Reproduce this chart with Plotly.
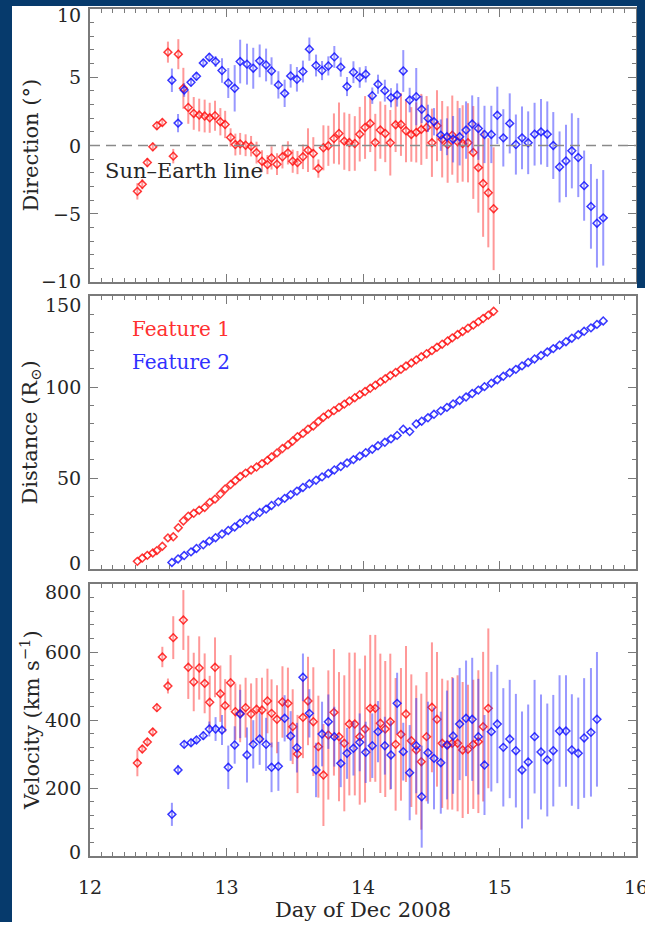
import plotly.graph_objects as go

# ---------------- data ----------------
red_t = [12.347, 12.383, 12.42, 12.46, 12.49, 12.53, 12.571, 12.61, 12.647, 12.684,
         12.72, 12.76, 12.80, 12.84, 12.877, 12.916, 12.955, 12.99, 13.03, 13.065,
         13.10, 13.14, 13.18, 13.22, 13.26, 13.30, 13.33, 13.37, 13.41, 13.45,
         13.485, 13.52, 13.56, 13.597, 13.636, 13.673, 13.71, 13.746, 13.787, 13.824,
         13.863, 13.90, 13.94, 13.976, 14.015, 14.053, 14.09, 14.127, 14.163, 14.20,
         14.239, 14.278, 14.315, 14.354, 14.39, 14.427, 14.466, 14.505, 14.542, 14.58,
         14.62, 14.654, 14.693, 14.73, 14.769, 14.808, 14.845, 14.88, 14.918, 14.957]

blue_t = [12.60, 12.645, 12.69, 12.74, 12.78, 12.83, 12.874, 12.92, 12.967, 13.013,
          13.06, 13.10, 13.15, 13.196, 13.243, 13.29, 13.33, 13.38, 13.426, 13.47,
          13.516, 13.56, 13.607, 13.656, 13.70, 13.746, 13.79, 13.837, 13.883, 13.93,
          13.976, 14.02, 14.068, 14.11, 14.16, 14.205, 14.25, 14.295, 14.342, 14.39,
          14.43, 14.476, 14.52, 14.57, 14.615, 14.66, 14.708, 14.755, 14.80, 14.845,
          14.89, 14.94, 14.984, 15.028, 15.075, 15.12, 15.165, 15.21, 15.257, 15.304,
          15.35, 15.394, 15.44, 15.487, 15.53, 15.577, 15.62, 15.67, 15.714, 15.76]

red_dir = [-3.36, -2.84, -1.25, -0.10, 1.45, 1.69, 6.84, -0.78, 6.69, 4.19,
           2.79, 2.35, 2.23, 2.16, 2.03, 2.18, 1.74, 1.54, 0.59, 0.07,
           0.12, 0.02, -0.05, -0.52, -1.15, -1.40, -0.91, -1.37, -0.83, -0.54,
           -1.15, -1.25, -0.83, -0.34, -0.59, -1.69, -0.17, -0.02, 0.51, 0.88,
           0.32, 0.22, 0.15, 0.83, 1.32, 1.62, 0.22, 1.13, 0.88, 0.20,
           1.52, 1.54, 1.08, 0.81, 0.96, 1.18, 1.32, 0.20, 1.45, 0.46,
           0.07, 0.76, 0.27, 0.15, 0.20, -0.51, -1.62, -2.79, -3.46, -4.63]
red_dir_err = [0.6, 0.37, 0.34, 0.32, 0.28, 0.27, 0.77, 0.53, 1.1, 1.5,
               1.2, 1.2, 1.2, 1.2, 1.1, 1.1, 1.0, 1.0, 0.67, 0.8,
               0.8, 0.8, 0.75, 0.8, 0.8, 0.7, 0.85, 0.8, 0.85, 0.85,
               0.85, 0.85, 0.9, 1.6, 1.2, 0.67, 1.65, 1.47, 1.84, 2.27,
               2.1, 2.1, 2.0, 2.0, 2.3, 2.1, 2.1, 2.1, 2.1, 2.4,
               2.0, 2.3, 2.3, 2.0, 2.2, 2.6, 2.3, 2.5, 2.6, 2.8,
               2.8, 2.9, 3.0, 2.8, 2.9, 3.4, 3.3, 3.9, 4.0, 4.5]

blue_dir = [4.78, 1.64, 4.07, 4.63, 5.07, 6.05, 6.47, 6.15, 5.49, 4.58,
            4.19, 6.15, 5.96, 5.66, 6.20, 5.90, 5.46, 4.44, 3.82, 5.10,
            4.85, 5.42, 7.06, 5.86, 5.49, 5.83, 6.49, 5.74, 4.32, 5.37,
            4.98, 5.22, 3.65, 4.49, 4.02, 3.50, 3.70, 5.46, 3.33, 3.58,
            2.65, 1.99, 1.74, 0.76, 0.64, 0.46, 0.64, 1.13, 1.57, 1.25,
            0.81, 0.81, 2.21, 0.56, 1.62, 0.07, 0.56, 0.20, 0.83, 1.00,
            0.83, 0.00, -1.57, -1.13, -0.39, -0.88, -2.94, -4.46, -5.69, -5.30]
blue_dir_err = [0.86, 0.67, 0.5, 0.3, 0.3, 0.3, 0.3, 0.4, 0.9, 1.1,
                1.7, 1.6, 1.5, 1.5, 1.2, 1.2, 1.0, 1.0, 1.0, 0.86,
                0.9, 0.8, 0.85, 0.8, 0.7, 0.7, 0.8, 0.7, 0.7, 0.8,
                0.75, 0.6, 0.6, 0.7, 0.8, 0.7, 0.85, 1.53, 0.9, 2.1,
                1.0, 1.0, 1.0, 1.15, 1.35, 1.7, 2.1, 2.1, 2.1, 2.3,
                2.1, 2.1, 2.1, 2.1, 2.2, 2.2, 2.3, 2.3, 2.3, 2.4,
                2.4, 2.45, 2.6, 2.65, 2.75, 2.9, 2.57, 3.1, 3.25, 3.5]

red_dist = [4.2, 6.0, 7.5, 8.8, 10.1, 12.5, 17.1, 17.7, 22.7, 26.4,
            29.0, 30.6, 32.3, 33.8, 36.6, 38.4, 41.2, 44.0, 46.4, 48.6,
            50.8, 52.7, 54.4, 56.0, 57.9, 59.7, 61.6, 63.8, 66.2, 68.2,
            70.3, 72.7, 74.5, 76.8, 78.6, 81.0, 83.4, 85.2, 87.0, 88.8,
            90.6, 92.3, 94.1, 95.8, 97.5, 99.3, 101.0, 102.8, 104.5, 106.3,
            108.0, 109.7, 111.5, 113.2, 114.9, 116.6, 118.3, 120.0, 121.8, 123.5,
            125.3, 127.0, 128.8, 130.5, 132.3, 134.0, 135.8, 137.6, 139.5, 141.6]

blue_dist = [3.6, 5.5, 7.4, 9.4, 11.3, 13.3, 15.3, 17.2, 19.2, 21.2,
             23.1, 25.1, 27.1, 29.0, 31.0, 32.9, 34.9, 36.9, 38.8, 40.8,
             42.8, 44.8, 46.8, 48.8, 50.6, 52.5, 54.4, 56.3, 58.2, 60.1,
             62.0, 63.9, 65.8, 67.7, 69.6, 71.5, 73.4, 76.8, 75.5, 79.7,
             81.2, 83.1, 85.0, 86.9, 88.8, 90.7, 92.6, 94.5, 96.4, 98.3,
             100.2, 102.1, 104.0, 105.9, 107.8, 109.7, 111.6, 113.5, 115.4, 117.3,
             119.2, 121.1, 123.0, 124.9, 126.8, 128.7, 130.6, 132.5, 134.4, 136.3]

red_vel = [273.5, 314.7, 335.3, 364.7, 436.3, 585.3, 500.0, 642.2, None, 694.1,
           554.9, 511.8, 553.0, 507.8, 452.0, 554.9, 477.4, 442.2, 509.8, 424.5,
           419.6, 436.3, 417.6, 431.4, 429.4, 455.9, 419.6, 402.0, 453.0, 449.0,
           380.4, 300.0, 407.8, 455.9, 395.1, 321.6, 238.2, 355.9, 422.5, 351.0,
           331.4, 388.2, 388.2, 351.0, 373.5, 434.3, 434.3, 390.2, 373.5, 395.1,
           328.4, 357.8, 417.6, 339.2, 311.8, 277.4, 351.0, 437.3, 402.0, 331.4,
           326.5, 331.4, 331.4, 311.8, 313.7, 328.4, 336.3, 380.4, 434.3]
red_vel_err = [39, 12, 12, 12, 12, 30, 22, 63, 0, 88,
               93, 86, 93, 88, 78, 88, 83, 78, 81, 83,
               85, 88, 90, 92, 95, 95, 100, 100, 105, 105,
               110, 115, 120, 130, 160, 150, 150, 190, 186, 190,
               200, 210, 210, 200, 216, 216, 216, 205, 200, 200,
               195, 195, 200, 195, 190, 200, 190, 191, 198, 190,
               190, 195, 200, 200, 190, 190, 210, 220, 235]

blue_vel = [122.5, 253.0, 328.4, 333.3, 341.2, 354.0, 373.5, 373.5, 370.6, 260.8,
            326.5, 417.6, 297.1, 328.4, 344.1, 328.4, 260.8, 263.7, 404.9, 353.0,
            318.6, 525.5, 419.6, 253.0, 358.8, 395.1, 351.0, 272.5, 302.0, 316.7,
            334.3, 304.9, 324.5, 365.7, 324.5, 297.1, 449.0, 306.9, 245.1, 324.5,
            174.5, 303.9, 287.2, 274.5, 326.5, 353.0, 388.2, 404.9, 402.0, 351.0,
            267.6, 365.7, 388.2, 319.6, 344.1, 309.8, 253.0, 276.5, 351.0, 305.9,
            282.4, 309.8, 367.6, 367.6, 311.8, 302.0, 347.1, 363.7, 402.0]
blue_vel_err = [34, 15, 10, 10, 10, 12, 22, 35, 44, 64,
                55, 71, 81, 71, 76, 78, 73, 72, 68, 73,
                73, 70, 71, 80, 95, 80, 88, 70, 75, 80,
                85, 90, 95, 90, 85, 100, 90, 85, 140, 140,
                150, 150, 150, 150, 160, 170, 165, 170, 181, 170,
                147, 176, 174, 174, 174, 167, 172, 169, 167, 169,
                166, 164, 164, 164, 164, 164, 176, 189, 198]

x_ticks = [12, 13, 14, 15, 16]
dir_ticks = [-10, -5, 0, 5, 10]
dist_ticks = [0, 50, 100, 150]
vel_ticks = [0, 200, 400, 600, 800]

# ---------------- layout geometry (pixels) ----------------
W, H = 645, 927
ML, MR, MT, MB = 90, 9, 9, 71
PW, PH = W - ML - MR, H - MT - MB


def ypap(py):
    return (H - MB - py) / PH


def xpap(px):
    return (px - ML) / PW


FONT = "DejaVu Serif"
TXT = "#262626"
AX = "#7a7a7a"
RED = "rgba(255,20,20,0.85)"
BLUE = "rgba(20,20,255,0.85)"
RED_BAR = "rgba(255,50,50,0.5)"
BLUE_BAR = "rgba(50,50,255,0.5)"

fig = go.Figure()


def add_series(x, y, err, col, barcol, xa, ya, size=6):
    kw = dict(x=x, y=y, mode="markers", xaxis=xa, yaxis=ya, showlegend=False,
              marker=dict(symbol="diamond-open", size=size, color=col,
                          line=dict(width=1.5, color=col)))
    if err is not None:
        kw["error_y"] = dict(type="data", array=err, visible=True, color=barcol,
                             thickness=2, width=0)
    fig.add_trace(go.Scatter(**kw))


add_series(red_t, red_dir, red_dir_err, RED, RED_BAR, "x", "y")
add_series(blue_t, blue_dir, blue_dir_err, BLUE, BLUE_BAR, "x", "y")
add_series(red_t, red_dist, None, RED, RED_BAR, "x2", "y2")
add_series(blue_t, blue_dist, None, BLUE, BLUE_BAR, "x2", "y2")
add_series(red_t[:len(red_vel)], red_vel, red_vel_err, RED, RED_BAR, "x3", "y3")
add_series(blue_t[:len(blue_vel)], blue_vel, blue_vel_err, BLUE, BLUE_BAR, "x3", "y3")

common = dict(showline=True, linecolor=AX, linewidth=1.5, mirror="allticks",
              ticks="inside", ticklen=8, tickwidth=1.2, tickcolor=AX,
              showgrid=False, zeroline=False, automargin=False,
              tickfont=dict(family=FONT, size=19, color=TXT))

xmin = dict(ticks="inside", ticklen=4, tickwidth=1, tickcolor=AX, dtick=1 / 12,
            tick0=12, showgrid=False)


def ymin(dt):
    return dict(ticks="inside", ticklen=4, tickwidth=1, tickcolor=AX, dtick=dt, tick0=0)


d1 = [ypap(282), 1.0]
d2 = [ypap(569), ypap(296)]
d3 = [0.0, ypap(584)]

fig.update_layout(
    width=W, height=H,
    margin=dict(l=ML, r=MR, t=MT, b=MB, pad=0, autoexpand=False),
    paper_bgcolor="white", plot_bgcolor="white",
    xaxis=dict(common, domain=[0, 1], anchor="y", range=[12, 16], tickvals=x_ticks,
               showticklabels=False, minor=xmin),
    xaxis2=dict(common, domain=[0, 1], anchor="y2", range=[12, 16], tickvals=x_ticks,
                showticklabels=False, minor=xmin, matches="x"),
    xaxis3=dict(common, domain=[0, 1], anchor="y3", range=[12, 16], tickvals=x_ticks,
                ticktext=[str(v) for v in x_ticks], minor=xmin, matches="x",
                ticklabelstandoff=13, ticklabeloverflow="allow"),
    yaxis=dict(common, domain=d1, anchor="x", range=[-10, 10], tickvals=dir_ticks,
               minor=ymin(1), showticklabels=False),
    yaxis2=dict(common, domain=d2, anchor="x2", range=[0, 150], tickvals=dist_ticks,
                minor=ymin(10), showticklabels=False),
    yaxis3=dict(common, domain=d3, anchor="x3", range=[0, 800], tickvals=vel_ticks,
                minor=ymin(40), showticklabels=False),
)

# y tick labels (edge labels nudged inward as in the reference)
tick_font = dict(family=FONT, size=19, color=TXT)
for yref, ticks, lo_shift, hi_shift in [("y", dir_ticks, 1, -6),
                                         ("y2", dist_ticks, 6, -9),
                                         ("y3", vel_ticks, 4, -8)]:
    for i, v in enumerate(ticks):
        shift = lo_shift if i == 0 else (hi_shift if i == len(ticks) - 1 else 0)
        lab = str(v).replace("-", "−")
        fig.add_annotation(text=lab, xref="paper", yref=yref, x=xpap(83), y=v,
                           yshift=shift, showarrow=False, xanchor="right",
                           yanchor="middle", font=tick_font)

# Sun-Earth dashed line
fig.add_shape(type="line", xref="x", yref="y", x0=12, x1=16, y0=0, y1=0,
              line=dict(color="#8a8a8a", width=1.5, dash="10px,6px"))

# dark blue frame around the slide
FRAME = "#063a6c"
for (px0, px1, py0, py1) in [(0, 12, 0, 922), (0, W, 0, 6), (637, W, 0, 288)]:
    fig.add_shape(type="rect", xref="paper", yref="paper",
                  x0=xpap(px0), x1=xpap(px1), y0=ypap(py1), y1=ypap(py0),
                  line=dict(width=0), fillcolor=FRAME, layer="above")

ann_font = dict(family=FONT, size=21, color=TXT)
for text, dom in [("Direction (°)", d1), ("Distance (R<sub>⊙</sub>)", d2),
                  ("Velocity (km s<sup>−1</sup>)", d3)]:
    fig.add_annotation(text=text, xref="paper", yref="paper", x=xpap(30),
                       y=(dom[0] + dom[1]) / 2, textangle=-90, showarrow=False,
                       xanchor="center", yanchor="middle", font=ann_font)

fig.add_annotation(text="Day of Dec 2008", xref="paper", yref="paper", x=0.5,
                   y=ypap(910), showarrow=False, xanchor="center", yanchor="middle",
                   font=ann_font)
fig.add_annotation(text="Sun–Earth line", xref="x", yref="y", x=12.095, y=-1.9,
                   showarrow=False, xanchor="left", yanchor="middle",
                   font=dict(family=FONT, size=21, color=TXT))
fig.add_annotation(text="Feature 1", xref="x2", yref="y2", x=12.29, y=132,
                   showarrow=False, xanchor="left", yanchor="middle",
                   font=dict(family=FONT, size=20, color="#ff3030"))
fig.add_annotation(text="Feature 2", xref="x2", yref="y2", x=12.29, y=113.6,
                   showarrow=False, xanchor="left", yanchor="middle",
                   font=dict(family=FONT, size=20, color="#3030ff"))

fig.write_html("out.html")
